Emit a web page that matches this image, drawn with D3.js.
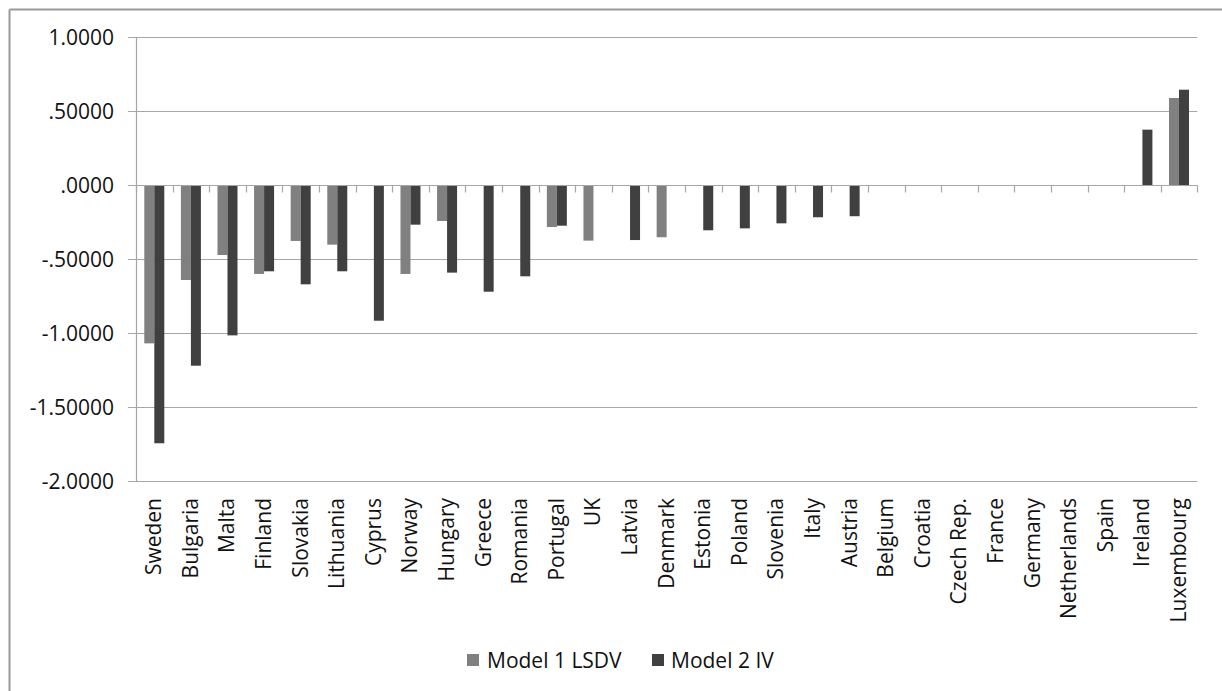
<!DOCTYPE html>
<html><head><meta charset="utf-8">
<script src="https://cdn.jsdelivr.net/npm/d3@7"></script>
<style>
html,body{margin:0;padding:0;background:#fff;}
svg text{font-family:"Open Sans",sans-serif;fill:#111;}
</style></head>
<body>
<svg id="chart" width="1222" height="691"></svg>
<script>
const categories = ["Sweden","Bulgaria","Malta","Finland","Slovakia","Lithuania","Cyprus","Norway","Hungary","Greece","Romania","Portugal","UK","Latvia","Denmark","Estonia","Poland","Slovenia","Italy","Austria","Belgium","Croatia","Czech Rep.","France","Germany","Netherlands","Spain","Ireland","Luxembourg"];
const model1LSDV = [-1.068,-0.640,-0.471,-0.599,-0.376,-0.401,null,-0.599,-0.241,null,null,-0.282,-0.374,null,-0.351,null,null,null,null,null,null,null,null,null,null,null,null,null,0.590];
const model2IV   = [-1.743,-1.219,-1.014,-0.581,-0.669,-0.581,-0.915,-0.266,-0.590,-0.719,-0.615,-0.273,null,-0.370,null,-0.304,-0.291,-0.257,-0.216,-0.209,null,null,null,null,null,null,null,0.376,0.646];
const seriesNames = ["Model 1 LSDV","Model 2 IV"];
const seriesColors = ["#808080","#404040"];
const yTicks = [1,0.5,0,-0.5,-1,-1.5,-2];
const yTickLabels = ["1.0000",".50000",".0000","-.50000","-1.0000","-1.50000","-2.0000"];

(function(){
const svg = d3.select("#chart");
const pL = 136, pR = 1197.3, pT = 37.3, pB = 481.3;

// outer frame (top & left visible)
svg.append("line").attr("x1",9.5).attr("y1",9.5).attr("x2",1222).attr("y2",9.5).attr("stroke","#9a9a9a").attr("stroke-width",2);
svg.append("line").attr("x1",9.5).attr("y1",9.5).attr("x2",9.5).attr("y2",691).attr("stroke","#9a9a9a").attr("stroke-width",2);

const y = d3.scaleLinear().domain([-2,1]).range([pB, pT]);
const x = d3.scaleBand().domain(categories).range([pL, pR]).paddingInner(0).paddingOuter(0);
const bw = 10;

// gridlines
svg.append("g").selectAll("line").data(yTicks).join("line")
  .attr("x1", pL-8).attr("x2", pR)
  .attr("y1", d=>Math.round(y(d))+0.5).attr("y2", d=>Math.round(y(d))+0.5)
  .attr("stroke","#a6a6a6").attr("stroke-width",1.2);

// y axis line
svg.append("line").attr("x1",pL+0.5).attr("x2",pL+0.5).attr("y1",y(1)).attr("y2",y(-2))
  .attr("stroke","#a6a6a6").attr("stroke-width",1.2);

// y labels
svg.append("g").selectAll("text").data(yTicks).join("text")
  .attr("x", pL-22).attr("y", d=>y(d)).attr("text-anchor","end")
  .attr("dominant-baseline","central").style("font-size","21px")
  .text((d,i)=>yTickLabels[i]);

// bars
const series = [model1LSDV, model2IV];
series.forEach((vals, s) => {
  svg.append("g").selectAll("rect").data(categories.map((c,i)=>({c, v: vals[i]})).filter(d=>d.v!==null)).join("rect")
    .attr("x", d => x(d.c) + x.bandwidth()/2 - bw + s*bw)
    .attr("width", bw)
    .attr("y", d => Math.min(y(d.v), y(0)))
    .attr("height", d => Math.abs(y(d.v)-y(0)))
    .attr("fill", seriesColors[s]);
});

// x axis line at zero
const y0 = Math.round(y(0))+0.5;
svg.append("line").attr("x1",pL).attr("x2",pR).attr("y1",y0).attr("y2",y0)
  .attr("stroke","#a6a6a6").attr("stroke-width",1.2);
// x ticks at category boundaries
const bounds = categories.map(c=>x(c)).concat([pR]);
svg.append("g").selectAll("line").data(bounds).join("line")
  .attr("x1", d=>Math.round(d)+0.5).attr("x2", d=>Math.round(d)+0.5)
  .attr("y1", y0).attr("y2", y0+7)
  .attr("stroke","#a6a6a6").attr("stroke-width",1.2);

// category labels
svg.append("g").selectAll("text").data(categories).join("text")
  .attr("transform", d => `translate(${x(d)+x.bandwidth()/2-1},498) rotate(-90)`)
  .attr("text-anchor","end").attr("dominant-baseline","central")
  .style("font-size","21px").text(d=>d);

// legend
const legend = [{x:467, tx:487}, {x:652, tx:671}];
legend.forEach((l,i)=>{
  svg.append("rect").attr("x",l.x).attr("y",654).attr("width",12).attr("height",12).attr("fill",seriesColors[i]);
  svg.append("text").attr("x",l.tx).attr("y",660).attr("dominant-baseline","central")
    .style("font-size","21px").text(seriesNames[i]);
});
})();
</script>
</body></html>
